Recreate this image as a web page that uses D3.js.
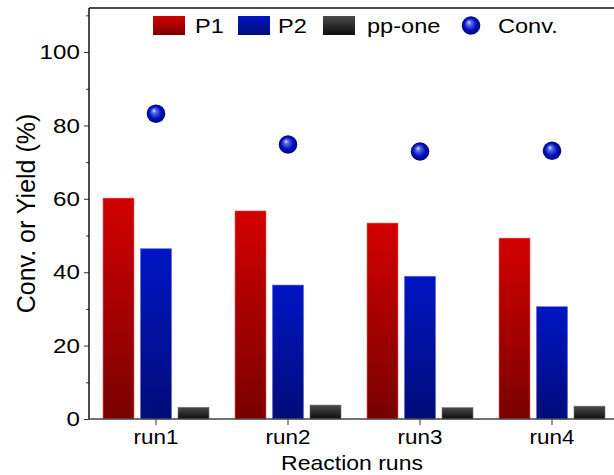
<!DOCTYPE html>
<html>
<head>
<meta charset="utf-8">
<script src="https://cdn.jsdelivr.net/npm/d3@7"></script>
<style>
  body { margin: 0; background: #fff; }
  text { font-family: "Liberation Sans", Arial, sans-serif; fill: #000; }
</style>
</head>
<body>
<div id="chart"></div>
<script>
// Data
const runs = ["run1", "run2", "run3", "run4"];
const p1 = [60.2, 56.7, 53.4, 49.3];
const p2 = [46.4, 36.5, 38.9, 30.6];
const ppOne = [3.2, 3.8, 3.1, 3.5];
const conv = [83.2, 74.8, 72.9, 73.1];
const seriesKeys = ["P1", "P2", "pp-one"];
const yTicks = [0, 20, 40, 60, 80, 100];
const yMinorTicks = [10, 30, 50, 70, 90, 110];

const W = 614, H = 475;
const margin = {top: 8, right: 0, bottom: 56, left: 89};
const height = H - margin.top - margin.bottom;
const stretch = 1.15; // the original text is a bit wide

const svg = d3.select("#chart").append("svg")
  .attr("width", W)
  .attr("height", H);

const defs = svg.append("defs");

function linGrad(id, top, bottom) {
  const g = defs.append("linearGradient")
    .attr("id", id)
    .attr("x1", 0).attr("y1", 0).attr("x2", 0).attr("y2", 1);
  g.append("stop").attr("offset", "0%").attr("stop-color", top);
  g.append("stop").attr("offset", "100%").attr("stop-color", bottom);
}
linGrad("gP1", "#d30000", "#790000");
linGrad("gP2", "#0015c4", "#000c78");
linGrad("gPP", "#4a4a4a", "#0e0e0e");

const sph = defs.append("radialGradient")
  .attr("id", "gSphere")
  .attr("cx", "50%").attr("cy", "50%").attr("r", "50%")
  .attr("fx", "38%").attr("fy", "32%");
sph.append("stop").attr("offset", "0%").attr("stop-color", "#e8ecff");
sph.append("stop").attr("offset", "22%").attr("stop-color", "#5a6ef0");
sph.append("stop").attr("offset", "65%").attr("stop-color", "#0010c0");
sph.append("stop").attr("offset", "100%").attr("stop-color", "#00086e");

const fills = {"P1": "url(#gP1)", "P2": "url(#gP2)", "pp-one": "url(#gPP)"};
const strokes = {"P1": "#e06a6a", "P2": "#5a6ad8", "pp-one": "#777"};

// Scales
const x = d3.scaleBand()
  .domain(runs)
  .range([90, 618])
  .padding(0);

const xInner = d3.scaleBand()
  .domain(seriesKeys)
  .range([9.75, x.bandwidth() - 9.75])
  .paddingInner(0.173)
  .paddingOuter(0.0865);

const y = d3.scaleLinear()
  .domain([0, 112])
  .range([margin.top + height, margin.top]);

// Bars
const rows = runs.map((r, i) => ({run: r, "P1": p1[i], "P2": p2[i], "pp-one": ppOne[i]}));

svg.append("g")
  .selectAll("g")
  .data(rows)
  .join("g")
    .attr("transform", d => `translate(${x(d.run)},0)`)
  .selectAll("rect")
  .data(d => seriesKeys.map(k => ({key: k, value: d[k]})))
  .join("rect")
    .attr("x", d => xInner(d.key))
    .attr("y", d => y(d.value))
    .attr("width", xInner.bandwidth())
    .attr("height", d => y(0) - y(d.value))
    .attr("fill", d => fills[d.key])
    .attr("stroke", d => strokes[d.key])
    .attr("stroke-width", 0.6);

// Conversion spheres
svg.append("g")
  .selectAll("circle")
  .data(runs.map((r, i) => ({run: r, value: conv[i]})))
  .join("circle")
    .attr("cx", d => x(d.run) + x.bandwidth() / 2)
    .attr("cy", d => y(d.value))
    .attr("r", 9.3)
    .attr("fill", "url(#gSphere)");

// Y axis (major + minor ticks)
const yAxis = svg.append("g")
  .attr("transform", `translate(${margin.left},0)`)
  .call(d3.axisLeft(y).tickValues(yTicks).tickSize(5).tickPadding(3))
  .call(g => g.select(".domain").remove());
yAxis.selectAll("text")
  .style("font-size", "21px")
  .attr("transform", `scale(${stretch},1)`);
yAxis.selectAll("line").attr("stroke", "#333");

svg.append("g")
  .attr("transform", `translate(${margin.left},0)`)
  .call(d3.axisLeft(y).tickValues(yMinorTicks).tickSize(3).tickFormat(""))
  .call(g => g.select(".domain").remove())
  .selectAll("line").attr("stroke", "#333");

svg.append("line")
  .attr("x1", margin.left).attr("x2", margin.left)
  .attr("y1", y(112)).attr("y2", y(0))
  .attr("stroke", "#111").attr("stroke-width", 1.5);

// X axis
const xAxis = svg.append("g")
  .attr("transform", `translate(0,${y(0)})`)
  .call(d3.axisBottom(x).tickSize(6).tickSizeOuter(0).tickPadding(5))
  .call(g => g.select(".domain").remove());
xAxis.selectAll("text")
  .style("font-size", "19.5px")
  .attr("transform", `scale(${stretch},1)`);
xAxis.selectAll("line").attr("stroke", "#333");

svg.append("line")
  .attr("x1", margin.left).attr("x2", W)
  .attr("y1", y(0)).attr("y2", y(0))
  .attr("stroke", "#444").attr("stroke-width", 1.5);

// Top border
svg.append("line")
  .attr("x1", margin.left).attr("x2", W)
  .attr("y1", y(112)).attr("y2", y(112))
  .attr("stroke", "#111").attr("stroke-width", 1.5);

// Axis titles
svg.append("text")
  .attr("transform", `translate(35,${(y(0) + y(112)) / 2}) rotate(-90)`)
  .attr("text-anchor", "middle")
  .style("font-size", "25px")
  .text("Conv. or Yield (%)");

svg.append("text")
  .attr("transform", `translate(352,470) scale(${stretch},1)`)
  .attr("text-anchor", "middle")
  .style("font-size", "20px")
  .text("Reaction runs");

// Legend
const legend = svg.append("g");
const legendItems = [
  {key: "P1", x: 153, tx: 195},
  {key: "P2", x: 238, tx: 278},
  {key: "pp-one", x: 323, tx: 367}
];
legendItems.forEach(d => {
  legend.append("rect")
    .attr("x", d.x).attr("y", 16)
    .attr("width", 32).attr("height", 19)
    .attr("fill", fills[d.key]);
  legend.append("text")
    .attr("transform", `translate(${d.tx},33) scale(${stretch},1)`)
    .style("font-size", "20.5px")
    .text(d.key);
});
legend.append("circle")
  .attr("cx", 471).attr("cy", 25.5).attr("r", 9.3)
  .attr("fill", "url(#gSphere)");
legend.append("text")
  .attr("transform", `translate(498,33) scale(${stretch},1)`)
  .style("font-size", "20.5px")
  .text("Conv.");
</script>
</body>
</html>
